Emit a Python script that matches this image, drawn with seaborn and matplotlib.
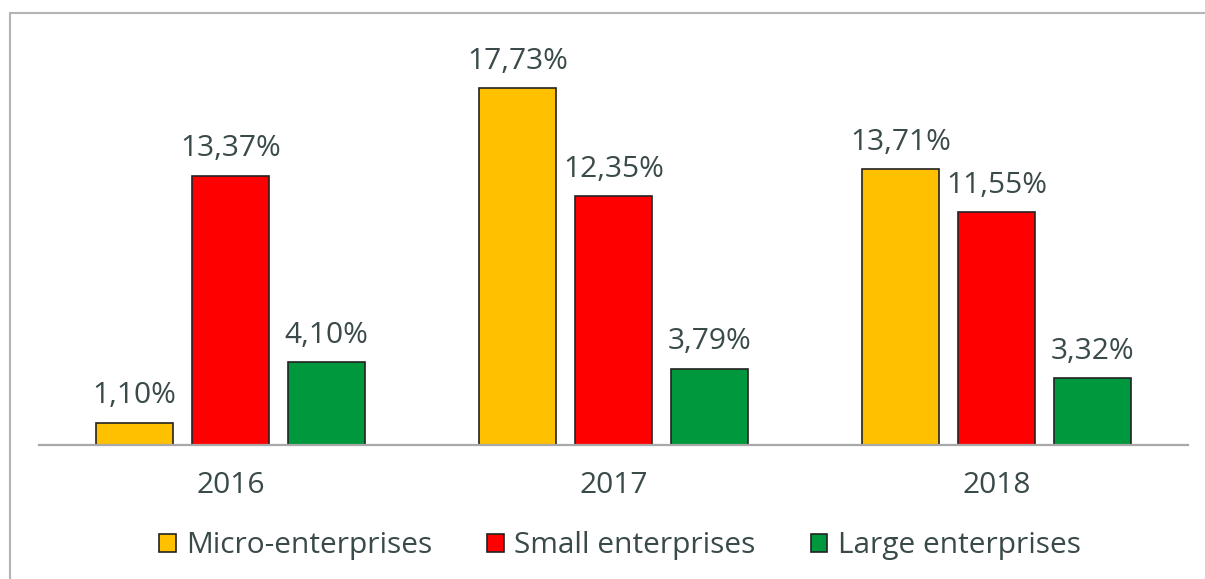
import matplotlib
matplotlib.use("Agg")
import matplotlib.pyplot as plt
from matplotlib.lines import Line2D
import pandas as pd
import seaborn as sns

# Share of enterprises by size class, per year
years = ["2016", "2017", "2018"]
micro = [1.10, 17.73, 13.71]
small = [13.37, 12.35, 11.55]
large = [4.10, 3.79, 3.32]
series_names = ["Micro-enterprises", "Small enterprises", "Large enterprises"]
series_colors = ["#FFC000", "#FF0000", "#00983D"]

df = pd.DataFrame({
    "year": years * 3,
    "value": micro + small + large,
    "size": [series_names[0]] * 3 + [series_names[1]] * 3 + [series_names[2]] * 3,
})

sns.set_style("white")
plt.rcParams["font.family"] = ["Open Sans", "DejaVu Sans"]
text_color = "#3A4A4A"
fs = 21.5

fig = plt.figure(figsize=(12.05, 5.79), dpi=100)
ax = fig.add_axes([39 / 1205, 1 - 445 / 579, (1188 - 39) / 1205, (445 - 20) / 579])

sns.barplot(
    data=df, x="year", y="value", hue="size", order=years, hue_order=series_names,
    palette=series_colors, saturation=1, width=0.75, gap=0.2, edgecolor="#222222",
    linewidth=1.2, ax=ax, legend=True,
)

ax.set_ylim(0, 425 / 20.13)
ax.set_xlim(-0.5, 2.5)
ax.set_xlabel("")
ax.set_ylabel("")
ax.set_yticks([])
for side in ["top", "left", "right"]:
    ax.spines[side].set_visible(False)
ax.spines["bottom"].set_color("#A8A8A8")
ax.spines["bottom"].set_linewidth(1.6)
ax.tick_params(axis="x", length=0, pad=19, labelsize=fs, labelcolor=text_color)

for container in ax.containers:
    labels = [f"{bar.get_height():.2f}".replace(".", ",") + "%" for bar in container]
    ax.bar_label(container, labels=labels, padding=9, fontsize=fs, color=text_color)

handles, lbls = ax.get_legend_handles_labels()
ax.get_legend().remove()
leg = fig.legend(
    handles, lbls, loc="center", bbox_to_anchor=(620 / 1205, 1 - 546 / 579), ncol=3,
    frameon=False, fontsize=fs, handlelength=0.55, handleheight=0.55,
    handletextpad=0.35, columnspacing=1.85, labelcolor=text_color,
)

# outer frame (top and left edges)
frame_color = "#B4B4B4"
fig.add_artist(Line2D([10 / 1205, 10 / 1205], [1 - 13 / 579, 0], color=frame_color, lw=1.5,
                      transform=fig.transFigure))
fig.add_artist(Line2D([10 / 1205, 1], [1 - 13 / 579, 1 - 13 / 579], color=frame_color, lw=1.5,
                      transform=fig.transFigure))

fig.savefig("out.png", dpi=100)
